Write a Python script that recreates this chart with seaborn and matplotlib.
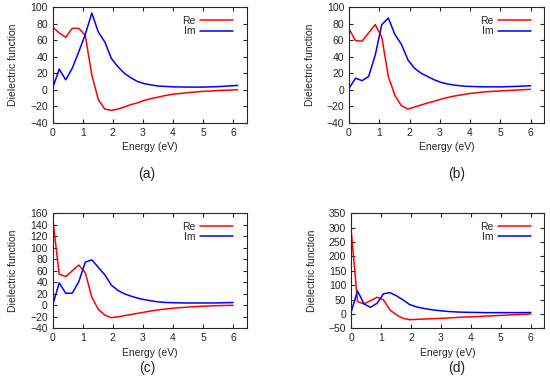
import pandas as pd
import seaborn as sns
import matplotlib.pyplot as plt

# energy grids (eV)
energy_a = [0, 0.217, 0.433, 0.65, 0.867, 1.083, 1.3, 1.517, 1.733, 1.95, 2.167, 2.383,
            2.6, 2.817, 3.033, 3.25, 3.5, 3.75, 4.0, 4.5, 5.0, 5.5, 6.15]
energy_bcd = [0, 0.217, 0.433, 0.65, 0.867, 1.083, 1.3, 1.517, 1.733, 1.95, 2.167, 2.383,
              2.6, 2.817, 3.033, 3.25, 3.5, 3.75, 4.0, 4.5, 5.0, 5.5, 6.0]

re_a = [76, 69, 63.5, 74.5, 74.5, 66, 18, -12, -23.5, -25, -23.5, -21,
        -18, -16, -13, -11, -9, -7, -5.5, -3.5, -2, -1, 0]
im_a = [2, 25, 12, 26, 46, 67, 93, 70, 58, 38, 28, 20,
        14.5, 10, 7.5, 6, 4.5, 4, 3.5, 3.2, 3.2, 3.8, 5.2]

re_b = [74, 59.5, 59, 69, 79, 64, 16, -7, -19.5, -23.5, -21, -18.5,
        -16, -14, -11.5, -9.5, -7.5, -6, -4.5, -2.5, -1.5, -0.5, 0.5]
im_b = [1.6, 14, 11, 16, 42, 79, 87, 67, 55, 36, 26, 20,
        16, 12, 9, 7, 5.5, 4.5, 4, 3.5, 3.5, 4, 4.8]

re_c = [151, 54, 50, 60, 70, 57, 14, -7, -17, -21.5, -20, -18,
        -16, -14, -12, -10, -8, -6.5, -5, -3, -1.5, -0.5, 0]
im_c = [0.6, 39, 21, 21, 41, 75, 79, 66, 53, 35, 26, 20,
        16, 12.5, 10, 8, 6, 5, 4.5, 4, 4, 4.2, 4.8]

re_d = [298, 43, 35, 46, 58, 49, 14, -3.5, -15, -20, -19, -18,
        -17, -16, -15, -14, -12.5, -11, -10, -7.5, -5, -2.5, 0]
im_d = [5, 80, 35, 23, 37, 70, 74, 63, 49, 33, 25, 20,
        16, 13, 10.5, 8.5, 7, 6, 5.5, 4.5, 4.5, 4.5, 5]

captions = ['(a)', '(b)', '(c)', '(d)']
ylims = [(-40, 100, 20), (-40, 100, 20), (-40, 160, 20), (-50, 350, 50)]

sns.set_style('ticks')
plt.rcParams['font.family'] = ['Liberation Sans', 'DejaVu Sans']

fig = plt.figure(figsize=(5.5, 3.89), dpi=100)
boxes = [[0.0958, 0.6846, 0.3527, 0.2966],
         [0.6345, 0.6846, 0.3551, 0.2966],
         [0.0958, 0.1560, 0.3527, 0.2957],
         [0.6382, 0.1560, 0.3515, 0.2957]]
cap_pos = [(0.267, 0.553), (0.830, 0.553), (0.267, 0.055), (0.830, 0.055)]

panels = [(energy_a, re_a, im_a), (energy_bcd, re_b, im_b),
          (energy_bcd, re_c, im_c), (energy_bcd, re_d, im_d)]

for i, (x, re, im) in enumerate(panels):
    ax = fig.add_axes(boxes[i])
    df = pd.DataFrame({'Energy': x, 'Re': re, 'Im': im})
    sns.lineplot(data=df, x='Energy', y='Re', ax=ax, color='#ff0000', lw=1.1, label='Re')
    sns.lineplot(data=df, x='Energy', y='Im', ax=ax, color='#0000ff', lw=1.1, label='Im')
    lo, hi, step = ylims[i]
    ax.set_ylim(lo, hi)
    ax.set_yticks(range(lo, hi + 1, step))
    ax.set_xlim(0, 6.45)
    ax.set_xticks(range(0, 7))
    ax.tick_params(direction='in', top=True, right=True, labelsize=7.5, length=3, pad=3.5)
    for s in ax.spines.values():
        s.set_linewidth(0.8)
    ax.set_xlabel('Energy (eV)', fontsize=7.5, labelpad=3.5)
    ax.set_ylabel('Dielectric function', fontsize=7.5, labelpad=8.5)
    ax.legend(loc='upper right', bbox_to_anchor=(0.975, 1.0), frameon=False,
              markerfirst=False, fontsize=7.5, handlelength=3.2, labelspacing=0.05,
              borderaxespad=0.4, handletextpad=0.4)
    fig.text(cap_pos[i][0], cap_pos[i][1], captions[i], fontsize=10, ha='center', va='center')

fig.savefig('out.png', dpi=100)
